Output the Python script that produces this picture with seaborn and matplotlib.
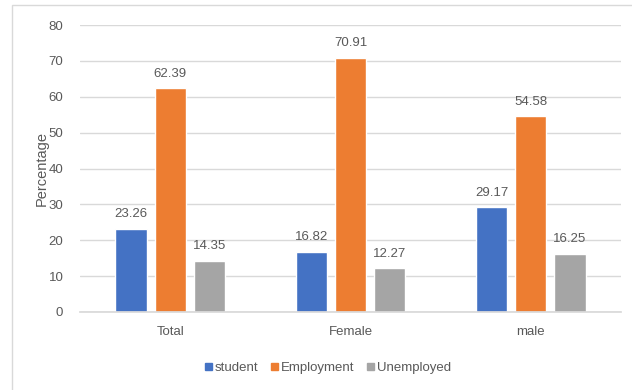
import matplotlib
matplotlib.use("Agg")
import matplotlib.pyplot as plt
import matplotlib.patches as mpatches
import seaborn as sns
import pandas as pd

groups = ["Total", "Female", "male"]
series = ["student", "Employment", "Unemployed"]
student = [23.26, 16.82, 29.17]
employment = [62.39, 70.91, 54.58]
unemployed = [14.35, 12.27, 16.25]
yticks = [0, 10, 20, 30, 40, 50, 60, 70, 80]

colors = ["#4472C4", "#ED7D31", "#A5A5A5"]
text_col = "#595959"

rows = []
for name, vals in zip(series, [student, employment, unemployed]):
    for g, v in zip(groups, vals):
        rows.append({"group": g, "series": name, "value": v})
df = pd.DataFrame(rows)

sns.set_theme(style="white")
plt.rcParams["font.family"] = ["Liberation Sans", "DejaVu Sans"]

fig = plt.figure(figsize=(6.32, 3.9), dpi=100)
ax = fig.add_axes([80 / 632, 1 - 312 / 390, (621 - 80) / 632, (312 - 25) / 390])

sns.barplot(data=df, x="group", y="value", hue="series", order=groups,
            hue_order=series, palette=colors, width=0.65, gap=0.2,
            saturation=1, ax=ax, legend=False)

for cont in ax.containers:
    ax.bar_label(cont, labels=[f"{v:.2f}" for v in cont.datavalues],
                 padding=6, fontsize=9.5, color=text_col)

ax.set_ylim(0, 80)
ax.set_xlim(-0.5, 2.5)
ax.set_yticks(yticks)
ax.set_yticklabels([str(t) for t in yticks], color=text_col, fontsize=9.5)
ax.tick_params(axis="x", colors=text_col, labelsize=9.5, length=0, pad=10)
ax.tick_params(axis="y", length=0, pad=12)
ax.yaxis.grid(True, color="#D9D9D9", linewidth=1)
ax.set_axisbelow(True)
for s in ["top", "right", "left"]:
    ax.spines[s].set_visible(False)
ax.spines["bottom"].set_color("#D9D9D9")
ax.set_xlabel("")
ax.set_ylabel("Percentage", color=text_col, fontsize=10.5, labelpad=0)

handles = [mpatches.Patch(color=c, label=s) for c, s in zip(colors, series)]
fig.legend(handles=handles, loc="center", bbox_to_anchor=(328 / 632, 1 - 368 / 390),
           ncol=3, frameon=False, fontsize=9.5, handlelength=0.5, handleheight=0.5,
           handletextpad=0.2, columnspacing=1.0, labelcolor=text_col)

border = mpatches.Rectangle((12 / 632, -0.01), 1.0, 1 - 5 / 390 + 0.01,
                            transform=fig.transFigure, fill=False,
                            edgecolor="#D9D9D9", linewidth=1)
fig.patches.append(border)

fig.savefig("out.png", dpi=100)
